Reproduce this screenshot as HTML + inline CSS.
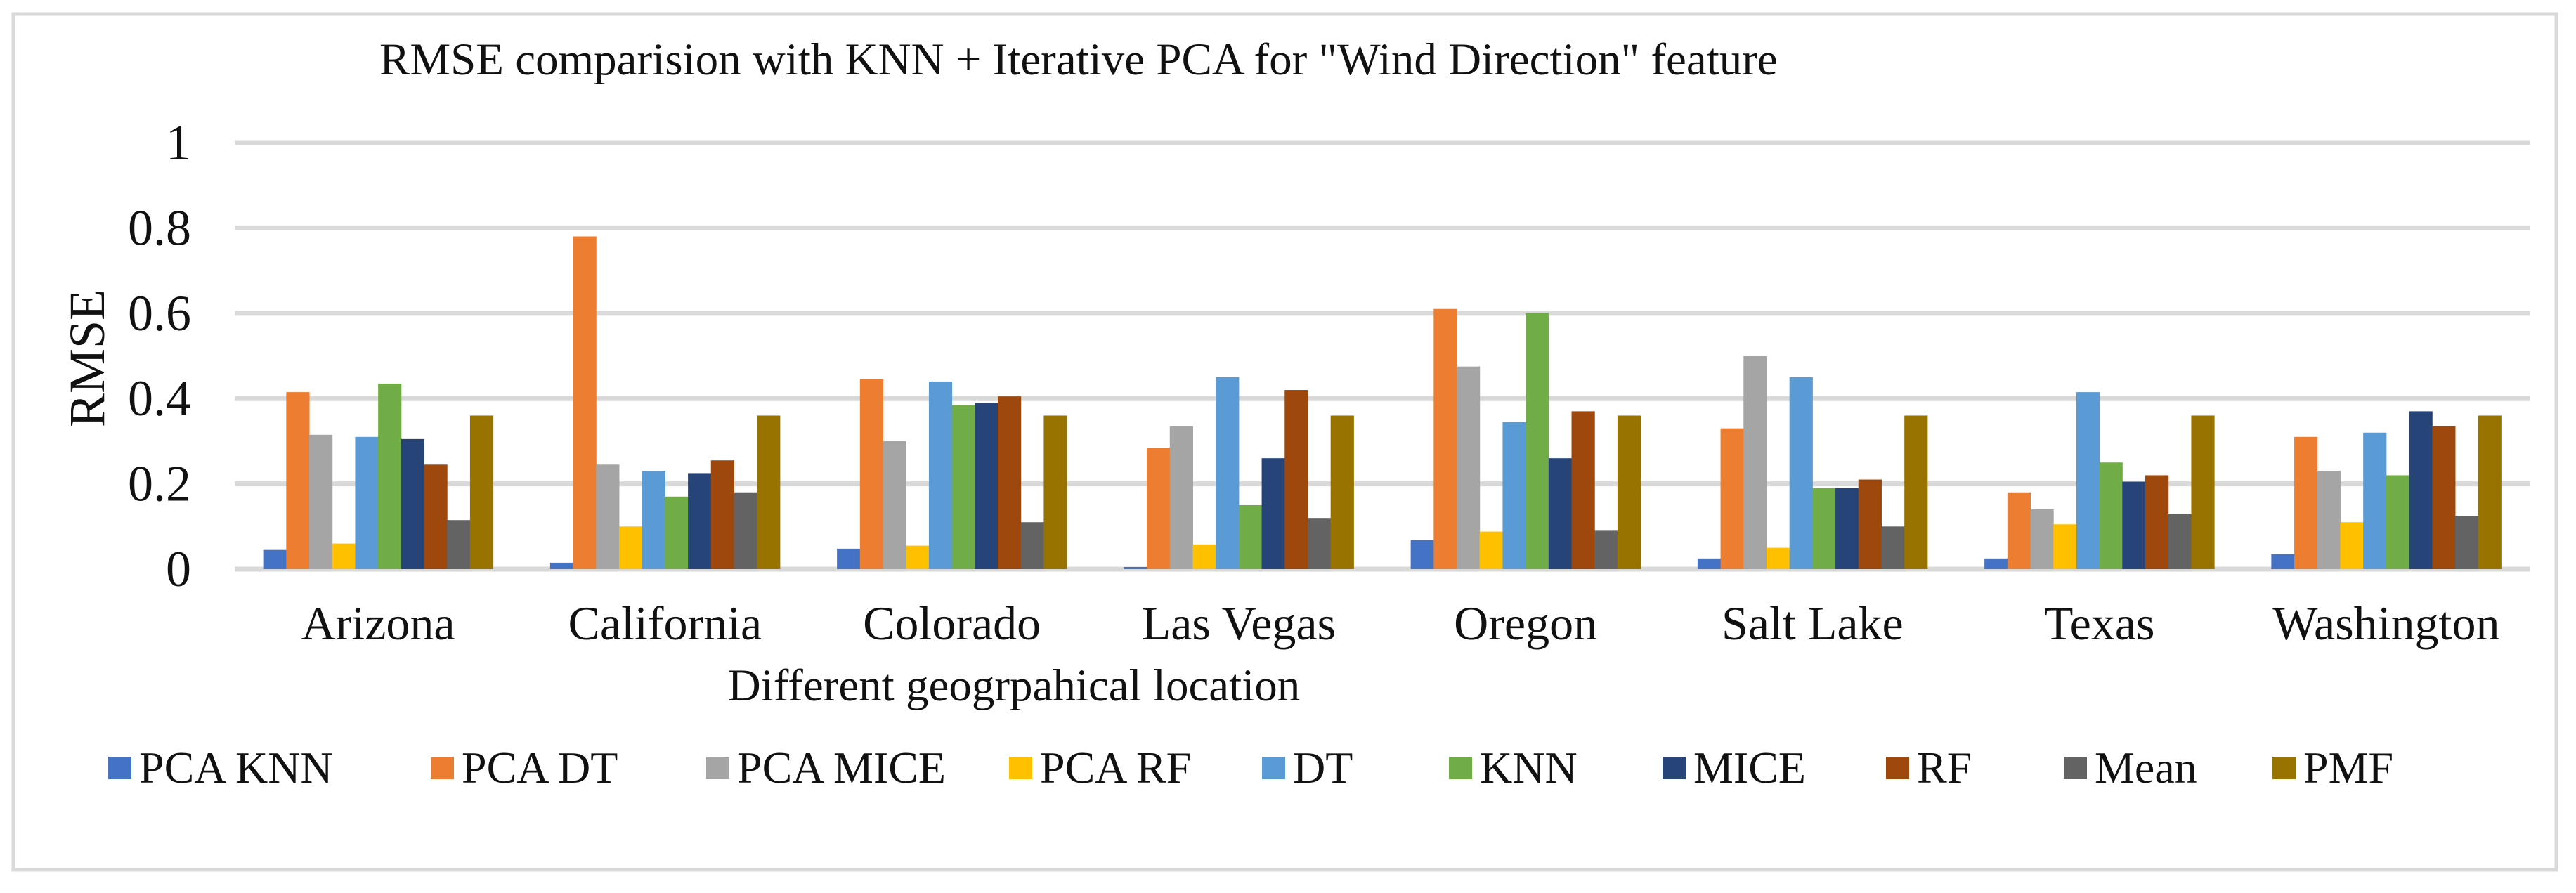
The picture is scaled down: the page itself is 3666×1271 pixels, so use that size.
<!DOCTYPE html>
<html><head><meta charset="utf-8"><style>
html,body{margin:0;padding:0;background:#fff;}
svg text{font-family:"Liberation Serif","DejaVu Serif",serif;}
</style></head><body>
<svg id="chart" width="3666" height="1266" viewBox="0 0 3666 1266" xmlns="http://www.w3.org/2000/svg">
<rect x="19" y="20" width="3619" height="1218" fill="#fff" stroke="#d9d9d9" stroke-width="5"/>
<text x="540" y="106" font-family="Liberation Serif, serif" font-size="65" fill="#111">RMSE comparision with KNN + Iterative PCA for "Wind Direction" feature</text>
<g id="grid"></g>
<g id="bars"></g>
<g id="labels"></g>
<text transform="translate(148,510) rotate(-90)" text-anchor="middle" font-family="Liberation Serif, serif" font-size="72" fill="#111">RMSE</text>
<text x="1443" y="997" text-anchor="middle" font-family="Liberation Serif, serif" font-size="65" fill="#111">Different geogrpahical location</text>
<g id="legend"></g>
</svg>
<script>
const categories = ["Arizona","California","Colorado","Las Vegas","Oregon","Salt Lake","Texas","Washington"];
const seriesNames = ["PCA KNN","PCA DT","PCA MICE","PCA RF","DT","KNN","MICE","RF","Mean","PMF"];
const colors = ["#4472c4","#ed7d31","#a5a5a5","#ffc000","#5b9bd5","#70ad47","#264478","#9e480e","#636363","#997300"];
const pcaKnn  = [0.045,0.015,0.048,0.005,0.068,0.025,0.025,0.035];
const pcaDt   = [0.415,0.78,0.445,0.285,0.61,0.33,0.18,0.31];
const pcaMice = [0.315,0.245,0.30,0.335,0.475,0.50,0.14,0.23];
const pcaRf   = [0.06,0.10,0.055,0.058,0.088,0.05,0.105,0.11];
const dt      = [0.31,0.23,0.44,0.45,0.345,0.45,0.415,0.32];
const knn     = [0.435,0.17,0.385,0.15,0.60,0.19,0.25,0.22];
const mice    = [0.305,0.225,0.39,0.26,0.26,0.19,0.205,0.37];
const rf      = [0.245,0.255,0.405,0.42,0.37,0.21,0.22,0.335];
const mean    = [0.115,0.18,0.11,0.12,0.09,0.10,0.13,0.125];
const pmf     = [0.36,0.36,0.36,0.36,0.36,0.36,0.36,0.36];
const yTicks = [0,0.2,0.4,0.6,0.8,1];
const yTickLabels = ["0","0.2","0.4","0.6","0.8","1"];
const series = [pcaKnn,pcaDt,pcaMice,pcaRf,dt,knn,mice,rf,mean,pmf];

const NS="http://www.w3.org/2000/svg";
const L=334,R=3600,Y0=810,Y1=203;
const catW=(R-L)/categories.length, barW=32.7, grpOff=(catW-barW*series.length)/2;
const y=v=>Y0+(Y1-Y0)*v;
const FF="Liberation Serif, serif";
function mk(tag,attrs,parent){const e=document.createElementNS(NS,tag);for(const k in attrs)e.setAttribute(k,attrs[k]);parent.appendChild(e);return e;}
const grid=document.getElementById('grid'),bars=document.getElementById('bars'),labels=document.getElementById('labels'),legend=document.getElementById('legend');
yTicks.forEach((t,i)=>{
  const ln=mk('line',{x1:L,x2:R,y1:y(t),y2:y(t),stroke:'#d9d9d9','stroke-width':7},grid);
  
  
  const tx=mk('text',{x:272,y:y(t)+24,'text-anchor':'end','font-size':72,'font-family':FF,fill:'#111'},labels);
  tx.textContent=yTickLabels[i];
  
  
});
categories.forEach((c,ci)=>{
  series.forEach((s,si)=>{
    const v=s[ci];
    const r=mk('rect',{x:L+ci*catW+grpOff+si*barW,y:y(v),width:barW+0.5,height:Y0-y(v),fill:colors[si]},bars);
    
    
  });
  const tx=mk('text',{x:L+(ci+0.5)*catW,y:910,'text-anchor':'middle','font-size':68,'font-family':FF,fill:'#111'},labels);
  tx.textContent=c;
  
  
});
const legX=[154,613,1005,1436,1796,2062,2366,2684,2937,3234];
seriesNames.forEach((n,i)=>{
  const g=mk('g',{},legend);
  
  
  mk('rect',{x:legX[i],y:1077,width:33,height:32,fill:colors[i]},g);
  const t=mk('text',{x:legX[i]+44,y:1114,'font-size':64,'font-family':FF,fill:'#111'},g);
  t.textContent=n;
});
</script>
</body></html>
